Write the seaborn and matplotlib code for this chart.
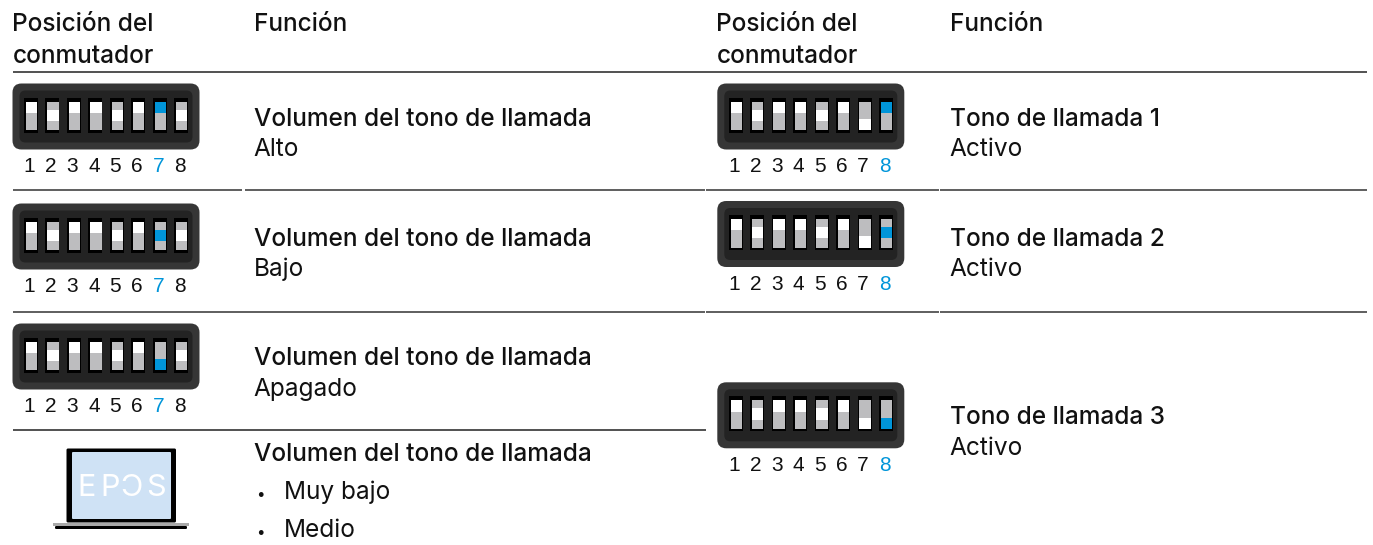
import matplotlib
matplotlib.use("Agg")
import matplotlib.pyplot as plt
from matplotlib.patches import FancyBboxPatch, Rectangle
import seaborn as sns

# =========================
# DATA
# =========================
header_pos = ["Posición del", "conmutador"]
header_func = "Función"
digits = ["1", "2", "3", "4", "5", "6", "7", "8"]

# slider position of each switch: 0 top, 1 middle, 2 bottom
left_states = [
    [0, 1, 0, 0, 1, 0, 0, 1],
    [0, 1, 0, 0, 1, 0, 1, 1],
    [0, 1, 0, 0, 1, 0, 2, 1],
]
right_states = [
    [0, 1, 0, 0, 1, 0, 2, 0],
    [0, 1, 0, 0, 1, 0, 2, 1],
    [0, 1, 0, 0, 1, 0, 2, 2],
]
left_titles = ["Volumen del tono de llamada"] * 4
left_subs = ["Alto", "Bajo", "Apagado"]
left_bullets = ["Muy bajo", "Medio"]
right_titles = ["Tono de llamada 1", "Tono de llamada 2", "Tono de llamada 3"]
right_subs = ["Activo", "Activo", "Activo"]
logo_letters = ["E", "P", "\u0186", "S"]

# =========================
# SETUP
# =========================
sns.set_theme(style="white")
plt.rcParams["font.family"] = ["Inter", "DejaVu Sans"]

INK = "#111111"
BLUE = "#0095d9"
GRAY = "#bdbdbf"
TXT = 17.6

fig = plt.figure(figsize=(13.73, 5.45), dpi=100)
ax = fig.add_axes([0, 0, 1, 1])
ax.set_xlim(0, 1373)
ax.set_ylim(545, 0)
ax.axis("off")


def draw_switch(x0, y0, states, active):
    ax.add_patch(FancyBboxPatch((x0 + 9, y0 + 9), 169, 48, boxstyle="round,pad=9",
                                fc="#363636", ec="none", zorder=2))
    ax.add_patch(FancyBboxPatch((x0 + 13, y0 + 13), 161, 40, boxstyle="round,pad=6",
                                fc="#232323", ec="none", zorder=3))
    for i, st in enumerate(states):
        sx = x0 + 11.5 + i * 21.45
        ax.add_patch(Rectangle((sx, y0 + 14), 14, 35, fc="black", ec="none", zorder=4))
        ax.add_patch(Rectangle((sx + 1.8, y0 + 18), 11.4, 28.5, fc=GRAY, ec="none", zorder=5))
        top = y0 + [18, 26, 35.3][st]
        col = BLUE if i == active else "white"
        ax.add_patch(Rectangle((sx + 1.8, top), 11.4, 11.3, fc=col, ec="none", zorder=6))
        ax.text(sx + 5.6, y0 + 89, digits[i], family="Liberation Sans", fontsize=15, ha="center",
                va="baseline", color=BLUE if i == active else INK, zorder=6)


# =========================
# HEADER + RULES
# =========================
for xh, xf in [(12.5, 253.5), (716.5, 949.5)]:
    ax.text(xh, 31, header_pos[0], fontsize=TXT, weight=500, color=INK, va="baseline")
    ax.text(xh, 63, header_pos[1], fontsize=TXT, weight=500, color=INK, va="baseline")
    ax.text(xf, 31, header_func, fontsize=TXT, weight=500, color=INK, va="baseline")

ax.hlines(72, 13, 1367, color="#222222", lw=1.1)
# rows have small nicks where the table cells meet
for x1, x2 in [(13, 241.5), (244.5, 705.3), (706.3, 939), (940, 1367)]:
    ax.hlines(189.8, x1, x2, color="#333333", lw=1.1)
for x1, x2 in [(13, 705.3), (706.3, 939), (940, 1367)]:
    ax.hlines(311.7, x1, x2, color="#333333", lw=1.1)
ax.hlines(430.2, 13, 706, color="#222222", lw=1.1)

# =========================
# SWITCH ROWS
# =========================
left_y = [83.5, 203.5, 323.5]
right_y = [83.5, 201, 382.3]
left_base = [(126, 156), (246, 276), (365, 396)]
right_base = [(126, 156), (246, 276), (424, 455)]

for i in range(3):
    draw_switch(12.5, left_y[i], left_states[i], 6)
    draw_switch(717.3, right_y[i], right_states[i], 7)
    ax.text(253.5, left_base[i][0], left_titles[i], fontsize=TXT, weight=500, color=INK, va="baseline")
    ax.text(253.5, left_base[i][1], left_subs[i], fontsize=TXT, color=INK, va="baseline")
    ax.text(949.5, right_base[i][0], right_titles[i], fontsize=TXT, weight=500, color=INK, va="baseline")
    ax.text(949.5, right_base[i][1], right_subs[i], fontsize=TXT, color=INK, va="baseline")

# =========================
# LAPTOP ROW
# =========================
ax.text(253.5, 461, left_titles[3], fontsize=TXT, weight=500, color=INK, va="baseline")
for yb, lab in zip([499, 537], left_bullets):
    ax.text(256, yb, "•", fontsize=11, color=INK, va="baseline")
    ax.text(284, yb, lab, fontsize=TXT, color=INK, va="baseline")

ax.add_patch(FancyBboxPatch((66.5, 448.5), 109.5, 74, boxstyle="round,pad=0,rounding_size=1.5", fc="black", ec="none"))
ax.add_patch(FancyBboxPatch((72, 452), 99, 67, boxstyle="round,pad=0,rounding_size=1", fc="#cfe2f5", ec="none"))
ax.add_patch(Rectangle((53, 522.5), 136, 3.5, fc="#a9a9a9", ec="none"))
ax.add_patch(FancyBboxPatch((55, 526), 132, 3, boxstyle="round,pad=0,rounding_size=1.2", fc="black", ec="none"))
for xc, letter in zip([86.5, 110.5, 131.5, 155.5], logo_letters):
    ax.text(xc, 495.5, letter, fontsize=22, color="white", ha="center", va="baseline")

fig.savefig("out.png", dpi=100)
